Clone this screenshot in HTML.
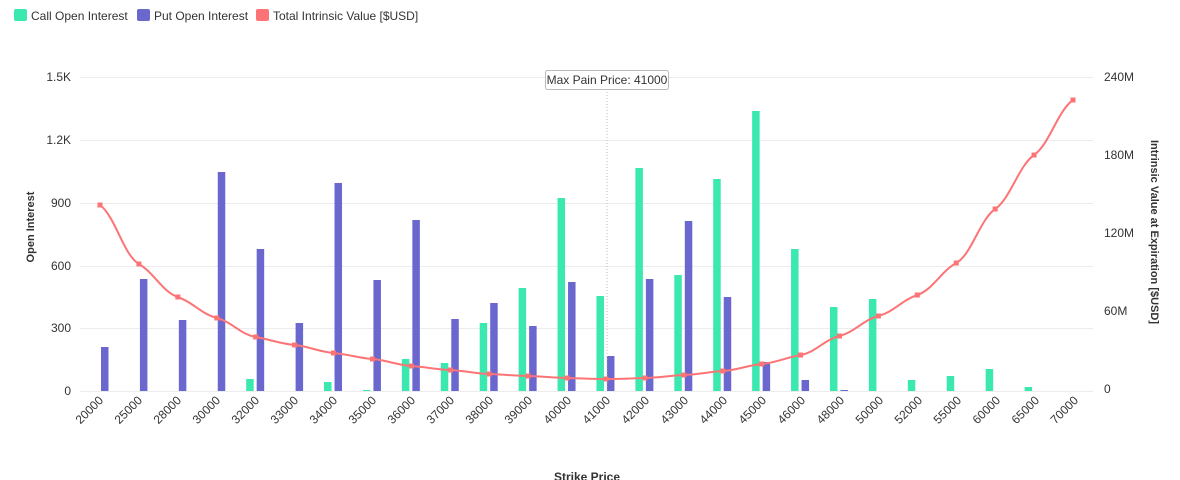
<!DOCTYPE html>
<html><head><meta charset="utf-8"><style>
html,body{margin:0;padding:0;background:#fff;}
svg{display:block;font-family:"Liberation Sans",sans-serif;}
</style></head><body>
<svg id="s" width="1180" height="480" viewBox="0 0 1180 480">
<g font-size="12" fill="#333">
<rect x="14" y="9" width="13" height="12" rx="2" fill="#3be8b0"/><text x="31" y="20">Call Open Interest</text>
<rect x="137" y="9" width="13" height="12" rx="2" fill="#6a67ce"/><text x="154" y="20">Put Open Interest</text>
<rect x="256" y="9" width="13" height="12" rx="2" fill="#fc7475"/><text x="273" y="20">Total Intrinsic Value [$USD]</text>
</g>
<g stroke="#ececec" stroke-width="1">
<line x1="80" x2="1093" y1="77.5" y2="77.5"/><line x1="80" x2="1093" y1="140.5" y2="140.5"/>
<line x1="80" x2="1093" y1="203.5" y2="203.5"/><line x1="80" x2="1093" y1="266.5" y2="266.5"/>
<line x1="80" x2="1093" y1="328.5" y2="328.5"/><line x1="80" x2="1093" y1="391.5" y2="391.5"/>
</g>
<g font-size="12" fill="#333" text-anchor="end">
<text x="71" y="81">1.5K</text><text x="71" y="144">1.2K</text><text x="71" y="207">900</text>
<text x="71" y="270">600</text><text x="71" y="332">300</text><text x="71" y="395">0</text>
</g>
<g font-size="12" fill="#333">
<text x="1104" y="81">240M</text><text x="1104" y="159">180M</text><text x="1104" y="237">120M</text>
<text x="1104" y="315">60M</text><text x="1104" y="393">0</text>
</g>
<text font-size="11" font-weight="bold" fill="#333" transform="translate(34,227) rotate(-90)" text-anchor="middle">Open Interest</text>
<text font-size="11" font-weight="bold" fill="#333" transform="translate(1151,232) rotate(90)" text-anchor="middle">Intrinsic Value at Expiration [$USD]</text>
<text font-size="12" font-weight="bold" fill="#333" x="587" y="481" text-anchor="middle">Strike Price</text>
<g id="bars"></g>
<line x1="607" x2="607" y1="89" y2="391" stroke="#bbb" stroke-dasharray="1,2"/>
<path id="ln" fill="none" stroke="#fc7475" stroke-width="2"/>
<g id="pts" fill="#fc7475"></g>
<rect x="545.5" y="70.5" width="123" height="19" rx="2" fill="#fff" stroke="#bbb"/>
<text x="607" y="84" font-size="12" fill="#333" text-anchor="middle">Max Pain Price: 41000</text>
<g font-size="12" fill="#333" text-anchor="end">
<text transform="translate(104,401) rotate(-45)">20000</text>
<text transform="translate(143,401) rotate(-45)">25000</text>
<text transform="translate(182,401) rotate(-45)">28000</text>
<text transform="translate(221,401) rotate(-45)">30000</text>
<text transform="translate(260,401) rotate(-45)">32000</text>
<text transform="translate(299,401) rotate(-45)">33000</text>
<text transform="translate(338,401) rotate(-45)">34000</text>
<text transform="translate(377,401) rotate(-45)">35000</text>
<text transform="translate(416,401) rotate(-45)">36000</text>
<text transform="translate(455,401) rotate(-45)">37000</text>
<text transform="translate(494,401) rotate(-45)">38000</text>
<text transform="translate(533,401) rotate(-45)">39000</text>
<text transform="translate(572,401) rotate(-45)">40000</text>
<text transform="translate(611,401) rotate(-45)">41000</text>
<text transform="translate(650,401) rotate(-45)">42000</text>
<text transform="translate(689,401) rotate(-45)">43000</text>
<text transform="translate(728,401) rotate(-45)">44000</text>
<text transform="translate(767,401) rotate(-45)">45000</text>
<text transform="translate(806,401) rotate(-45)">46000</text>
<text transform="translate(845,401) rotate(-45)">48000</text>
<text transform="translate(884,401) rotate(-45)">50000</text>
<text transform="translate(923,401) rotate(-45)">52000</text>
<text transform="translate(962,401) rotate(-45)">55000</text>
<text transform="translate(1001,401) rotate(-45)">60000</text>
<text transform="translate(1040,401) rotate(-45)">65000</text>
<text transform="translate(1079,401) rotate(-45)">70000</text>
</g>
</svg>
<script>
var cx=function(i){return 100+38.92*i;};
var base=391;
var calls=[391,391,391,391,379,391,382,390,359,363,323,288,198,296,168,275,179,111,249,307,299,380,376,369,387,391];
var puts=[347,279,320,172,249,323,183,280,220,319,303,326,282,356,279,221,297,362,380,390,391,391,391,391,391,391];
var ly=[205,264,297,318,337,345,353,359,366,370,374,376,378,379,378,375,371,364,355,336,316,295,263,209,155,100];
var ns="http://www.w3.org/2000/svg",g=document.getElementById('bars'),p=document.getElementById('pts');
function r(x,y,w,h,c,par){var e=document.createElementNS(ns,'rect');e.setAttribute('x',x);e.setAttribute('y',y);e.setAttribute('width',w);e.setAttribute('height',h);e.setAttribute('fill',c);par.appendChild(e);}
for(var i=0;i<26;i++){var c=cx(i);
if(calls[i]<base)r(c-9.5,calls[i],7.5,base-calls[i],'#3be8b0',g);
if(puts[i]<base)r(c+1,puts[i],7.5,base-puts[i],'#6a67ce',g);
r(c-2.5,ly[i]-2.5,5,5,'#fc7475',p);}
var P=ly.map(function(y,i){return [cx(i),y];}),d='M'+P[0][0]+','+P[0][1],k=0.4;
for(var i=0;i<P.length-1;i++){var p0=P[Math.max(i-1,0)],p1=P[i],p2=P[i+1],p3=P[Math.min(i+2,P.length-1)];
var dx=(p2[0]-p1[0])*k;
var t1=(p2[1]-p0[1])/(p2[0]-p0[0])*0.5, t2=(p3[1]-p1[1])/(p3[0]-p1[0])*0.5;
d+=' C'+(p1[0]+dx)+','+(p1[1]+t1*dx)+' '+(p2[0]-dx)+','+(p2[1]-t2*dx)+' '+p2[0]+','+p2[1];}
document.getElementById('ln').setAttribute('d',d);
</script>
</body></html>
